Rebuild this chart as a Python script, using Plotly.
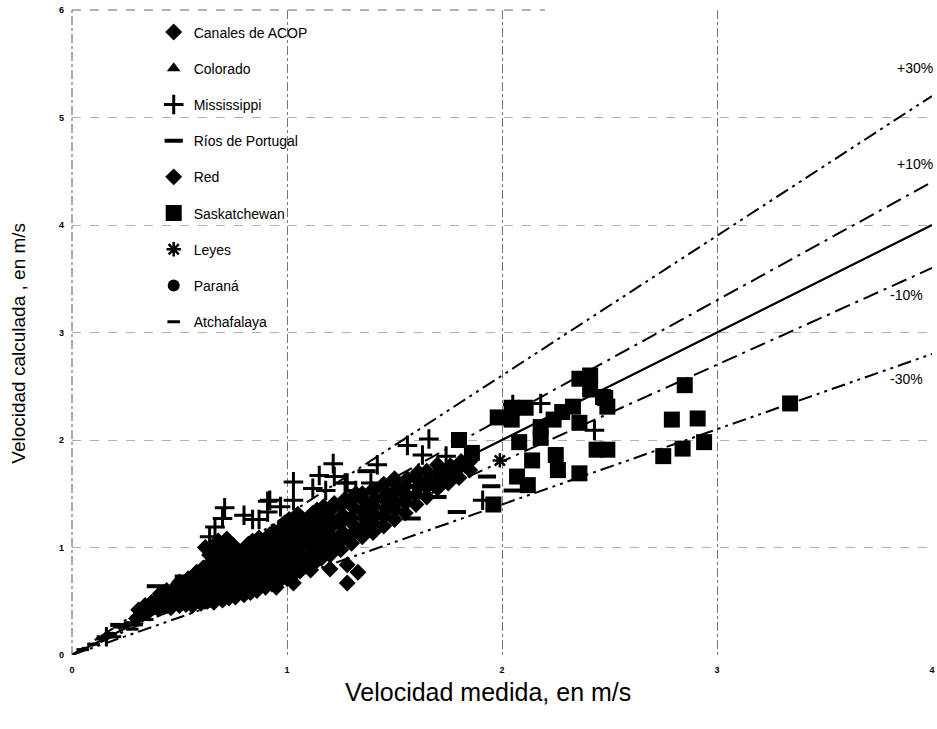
import plotly.graph_objects as go

# ---------------- data ----------------
acop = [
    (0.30, 0.34), (0.31, 0.42), (0.33, 0.38), (0.34, 0.46), (0.36, 0.41), (0.37, 0.49),
    (0.40, 0.43), (0.40, 0.51), (0.41, 0.57), (0.43, 0.45), (0.44, 0.53), (0.44, 0.60),
    (0.46, 0.44), (0.47, 0.52), (0.47, 0.61), (0.50, 0.46), (0.50, 0.55), (0.51, 0.62), (0.50, 0.68),
    (0.53, 0.47), (0.54, 0.55), (0.53, 0.64), (0.54, 0.71),
    (0.56, 0.46), (0.57, 0.54), (0.56, 0.62), (0.57, 0.70), (0.58, 0.77),
    (0.60, 0.48), (0.60, 0.57), (0.61, 0.64), (0.60, 0.73), (0.61, 0.81),
    (0.63, 0.50), (0.64, 0.58), (0.63, 0.67), (0.64, 0.75), (0.63, 0.83), (0.64, 0.93), (0.62, 1.00),
    (0.66, 0.49), (0.67, 0.57), (0.66, 0.66), (0.67, 0.73), (0.66, 0.82), (0.67, 0.90), (0.66, 0.99), (0.68, 1.06),
    (0.70, 0.51), (0.70, 0.60), (0.71, 0.67), (0.70, 0.76), (0.71, 0.84), (0.70, 0.92), (0.71, 1.01), (0.72, 1.08),
    (0.73, 0.53), (0.74, 0.61), (0.73, 0.70), (0.74, 0.77), (0.73, 0.86), (0.74, 0.93), (0.75, 1.02),
    (0.76, 0.54), (0.77, 0.63), (0.76, 0.70), (0.77, 0.79), (0.76, 0.87), (0.78, 0.95),
    (0.80, 0.56), (0.80, 0.64), (0.81, 0.73), (0.80, 0.81), (0.81, 0.88), (0.80, 0.97), (0.82, 1.03),
    (0.83, 0.58), (0.84, 0.67), (0.83, 0.74), (0.84, 0.83), (0.83, 0.90), (0.85, 0.99), (0.84, 1.06),
    (0.86, 0.60), (0.87, 0.69), (0.86, 0.77), (0.87, 0.84), (0.86, 0.93), (0.88, 1.01), (0.87, 1.09),
    (0.90, 0.63), (0.90, 0.71), (0.91, 0.80), (0.90, 0.87), (0.91, 0.96), (0.90, 1.04), (0.92, 1.12),
    (0.93, 0.66), (0.94, 0.75), (0.93, 0.82), (0.94, 0.91), (0.93, 0.99), (0.95, 1.06), (0.94, 1.15),
    (0.96, 0.68), (0.97, 0.77), (0.96, 0.84), (0.97, 0.93), (0.96, 1.01), (0.98, 1.08), (0.97, 1.17), (0.99, 1.23),
    (1.00, 0.71), (1.00, 0.80), (1.01, 0.87), (1.00, 0.96), (1.01, 1.03), (1.00, 1.12), (1.02, 1.19), (1.01, 1.26),
    (1.03, 0.75), (1.04, 0.84), (1.03, 0.91), (1.04, 1.00), (1.03, 1.07), (1.05, 1.16), (1.04, 1.23), (1.05, 1.31),
    (1.06, 0.78), (1.07, 0.87), (1.06, 0.94), (1.07, 1.03), (1.06, 1.10), (1.08, 1.19), (1.07, 1.27),
    (1.10, 0.83), (1.10, 0.91), (1.11, 1.00), (1.10, 1.07), (1.11, 1.16), (1.10, 1.23), (1.12, 1.32),
    (1.13, 0.86), (1.14, 0.95), (1.13, 1.02), (1.14, 1.11), (1.13, 1.18), (1.15, 1.27), (1.14, 1.35),
    (1.16, 0.90), (1.17, 0.98), (1.16, 1.07), (1.17, 1.14), (1.16, 1.23), (1.18, 1.30), (1.17, 1.38),
    (1.20, 0.93), (1.20, 1.02), (1.21, 1.09), (1.20, 1.18), (1.21, 1.25), (1.20, 1.34), (1.22, 1.41),
    (1.25, 0.98), (1.25, 1.07), (1.26, 1.14), (1.25, 1.23), (1.26, 1.30), (1.25, 1.39), (1.27, 1.45),
    (1.30, 1.04), (1.30, 1.12), (1.31, 1.21), (1.30, 1.28), (1.31, 1.37), (1.30, 1.44), (1.32, 1.50),
    (1.35, 1.10), (1.35, 1.18), (1.36, 1.27), (1.35, 1.34), (1.36, 1.43), (1.35, 1.50),
    (1.40, 1.14), (1.40, 1.23), (1.41, 1.30), (1.40, 1.39), (1.41, 1.46), (1.40, 1.54),
    (1.45, 1.20), (1.45, 1.29), (1.46, 1.36), (1.45, 1.45), (1.46, 1.52), (1.45, 1.59),
    (1.50, 1.26), (1.50, 1.35), (1.51, 1.42), (1.50, 1.51), (1.51, 1.58), (1.50, 1.64),
    (1.55, 1.32), (1.55, 1.41), (1.56, 1.48), (1.55, 1.57), (1.56, 1.64),
    (1.60, 1.40), (1.60, 1.49), (1.61, 1.56), (1.60, 1.65), (1.61, 1.70),
    (1.65, 1.47), (1.65, 1.56), (1.66, 1.63), (1.65, 1.71),
    (1.70, 1.55), (1.70, 1.64), (1.71, 1.71), (1.70, 1.77),
    (1.75, 1.60), (1.75, 1.69), (1.76, 1.76),
    (1.80, 1.65), (1.80, 1.74), (1.81, 1.80),
    (1.85, 1.72), (1.85, 1.80),
]
acop_x = [p[0] for p in acop]
acop_y = [p[1] for p in acop]

colorado_x = [0.52, 0.68, 0.79, 0.92, 1.08, 1.22]
colorado_y = [0.58, 0.66, 0.78, 0.90, 1.02, 1.20]

mississippi_x = [0.16, 0.64, 0.665, 0.70, 0.71, 0.80, 0.84, 0.87, 0.91, 0.91, 0.92, 0.97, 1.03,
                 1.03, 1.12, 1.15, 1.18, 1.215, 1.22, 1.27, 1.28, 1.32, 1.39, 1.42, 1.56, 1.63,
                 1.66, 1.74, 1.91, 2.05, 2.18, 2.43]
mississippi_y = [0.17, 1.10, 1.19, 1.27, 1.37, 1.30, 1.26, 1.26, 1.43, 1.33, 1.44, 1.38, 1.61,
                 1.44, 1.55, 1.67, 1.53, 1.78, 1.66, 1.60, 1.60, 1.53, 1.60, 1.77, 1.95, 1.86,
                 2.01, 1.85, 1.44, 2.33, 2.34, 2.09]

portugal_x = [0.22, 0.39, 0.52, 1.22, 1.23, 1.35, 1.40, 1.37, 1.58, 1.70, 1.79, 1.93, 1.95, 2.05]
portugal_y = [0.28, 0.64, 0.73, 1.00, 0.98, 1.15, 1.16, 1.71, 1.27, 1.47, 1.33, 1.66, 1.57, 1.53]

red_x = [0.95, 1.03, 1.11, 1.20, 1.28, 1.28, 1.33, 0.62, 0.58]
red_y = [0.63, 0.67, 0.79, 0.80, 0.84, 0.67, 0.77, 0.56, 0.60]

sask_x = [1.80, 1.86, 1.96, 1.98, 2.045, 2.045, 2.08, 2.07, 2.11, 2.12, 2.14, 2.18, 2.18, 2.24,
          2.25, 2.26, 2.28, 2.33, 2.36, 2.41, 2.36, 2.36, 2.41, 2.44, 2.47, 2.48, 2.49, 2.49,
          2.75, 2.79, 2.84, 2.85, 2.91, 2.94, 3.34]
sask_y = [2.00, 1.88, 1.40, 2.21, 2.30, 2.19, 1.98, 1.66, 2.30, 1.58, 1.81, 2.02, 2.12, 2.19,
          1.86, 1.72, 2.26, 2.31, 2.57, 2.60, 2.16, 1.69, 2.47, 1.91, 2.40, 2.39, 1.91, 2.31,
          1.85, 2.19, 1.92, 2.51, 2.20, 1.98, 2.34]

leyes_x = [0.44, 1.99]
leyes_y = [0.45, 1.81]

parana_x = [1.38, 1.47, 1.55, 1.62, 1.68]
parana_y = [1.36, 1.43, 1.49, 1.58, 1.62]

atcha_x = [0.05, 0.10, 0.14, 0.18, 0.20, 0.24, 0.27, 0.22, 0.28, 0.32, 0.30, 0.35, 0.34]
atcha_y = [0.05, 0.10, 0.15, 0.20, 0.17, 0.27, 0.30, 0.26, 0.24, 0.36, 0.28, 0.33, 0.41]

band_factors = [1.3, 1.1, 1.0, 0.9, 0.7]
band_labels = ["+30%", "+10%", "", "-10%", "-30%"]
x_span = [0, 4]
x_ticks = [0, 1, 2, 3, 4]
y_ticks = [0, 1, 2, 3, 4, 5, 6]

# ---------------- figure ----------------
FONT = "Liberation Sans, Arial, sans-serif"
fig = go.Figure()

dash_10 = "16px,6px,3px,6px"
dash_30 = "14px,5px,3px,5px,3px,5px"
for f in band_factors:
    if f == 1.0:
        dash, w = "solid", 2.2
    elif abs(f - 1) < 0.2:
        dash, w = dash_10, 2.0
    else:
        dash, w = dash_30, 2.0
    fig.add_trace(go.Scatter(x=x_span, y=[f * v for v in x_span], mode="lines",
                             line=dict(color="black", width=w, dash=dash),
                             showlegend=False, hoverinfo="skip"))

def add_series(name, xs, ys, symbol, size, lw=0, order=0):
    fig.add_trace(go.Scatter(
        x=xs, y=ys, mode="markers", name=name, legendgroup=name, legendrank=order,
        marker=dict(symbol=symbol, size=size, color="black",
                    line=dict(color="black", width=lw)),
    ))

add_series("Atchafalaya", atcha_x, atcha_y, "line-ew", 9, 3, 9)
add_series("Ríos de Portugal", portugal_x, portugal_y, "line-ew", 13, 4, 4)
add_series("Mississippi", mississippi_x, mississippi_y, "cross-thin", 14, 3, 3)
add_series("Canales de ACOP", acop_x, acop_y, "diamond", 13, 0, 1)
add_series("Colorado", colorado_x, colorado_y, "triangle-up", 12, 0, 2)
add_series("Red", red_x, red_y, "diamond", 13, 0, 5)
add_series("Paraná", parana_x, parana_y, "circle", 12, 0, 8)
add_series("Leyes", leyes_x, leyes_y, "asterisk", 12, 2.5, 7)
add_series("Saskatchewan", sask_x, sask_y, "square", 16, 0, 6)

# band labels at the right end of each reference line
label_shift = {"+30%": (3, 5.39), "+10%": (3, 4.49), "-10%": (-7, 3.27), "-30%": (-7, 2.49)}
for lab in band_labels:
    if lab:
        xs, y0 = label_shift[lab]
        fig.add_annotation(x=4, y=y0, text=lab, showarrow=False, xanchor="right",
                           xshift=xs, yshift=8,
                           font=dict(family=FONT, size=14, color="black"))

# axis titles
fig.add_annotation(xref="paper", yref="paper", x=0.484, y=-0.057, text="Velocidad medida, en m/s",
                   showarrow=False, xanchor="center", yanchor="middle",
                   font=dict(family=FONT, size=25, color="black"))
fig.add_annotation(xref="paper", yref="paper", x=-0.0625, y=0.483, text="Velocidad calculada , en m/s",
                   showarrow=False, xanchor="center", yanchor="middle", textangle=-90,
                   font=dict(family=FONT, size=19, color="black"))

# frame pieces (left edge and top edge, drawn dashed like the scan)
fig.add_shape(type="line", xref="paper", yref="paper", x0=0, x1=0, y0=0, y1=1,
              line=dict(color="#555", width=1, dash="dashdot"))
fig.add_shape(type="line", xref="paper", yref="paper", x0=0, x1=0.55, y0=1, y1=1,
              line=dict(color="#666", width=1, dash="dash"))

tickfont = dict(family=FONT, size=9, color="black", weight="bold")
fig.update_xaxes(range=[0, 4], tickvals=x_ticks, ticktext=[str(v) for v in x_ticks],
                 showgrid=True, gridcolor="#777", griddash="dashdot", gridwidth=1,
                 zeroline=False, showline=False, tickfont=tickfont, ticks="",
                 ticklabelstandoff=8, ticklabeloverflow="allow", automargin=False)
fig.update_yaxes(range=[0, 6], tickvals=y_ticks, ticktext=[str(v) for v in y_ticks],
                 showgrid=True, gridcolor="#b0b0b0", griddash="dash", gridwidth=1,
                 zeroline=False, showline=False, tickfont=tickfont, ticks="",
                 ticklabelstandoff=7, ticklabeloverflow="allow", automargin=False)

fig.update_layout(
    width=937, height=729,
    margin=dict(l=72, r=5, t=10, b=74),
    plot_bgcolor="white", paper_bgcolor="white",
    showlegend=True,
    legend=dict(x=0.095, y=0.99, xanchor="left", yanchor="top",
                bgcolor="rgba(0,0,0,0)", tracegroupgap=15,
                font=dict(family=FONT, size=14, color="black")),
)

# remove the default page margin so the 937x729 figure fills the window exactly
fig.write_html("out.html", config={"displayModeBar": False},
               post_script="document.body.style.margin='0';document.body.style.overflow='hidden';")
